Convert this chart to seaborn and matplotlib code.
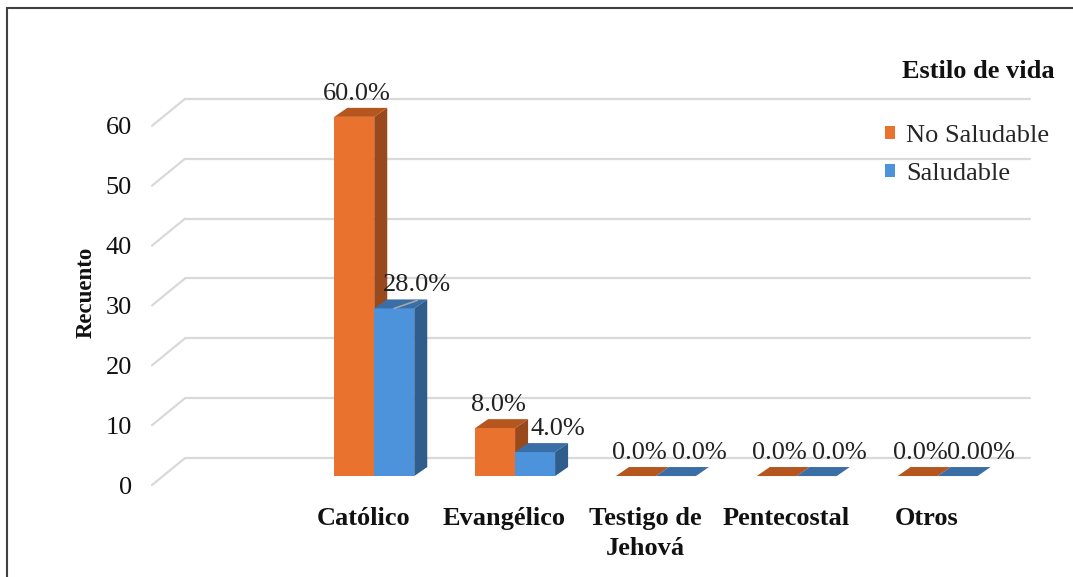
import matplotlib
matplotlib.use("Agg")
import numpy as np
import pandas as pd
import matplotlib.pyplot as plt
from matplotlib.patches import Polygon, Rectangle
import seaborn as sns

# Datos del grafico
categorias = ["", "Católico", "Evangélico", "Testigo de\nJehová", "Pentecostal", "Otros"]
grupos = ["No Saludable", "Saludable"]
no_saludable = [60, 8, 0, 0, 0]
saludable = [28, 4, 0, 0, 0]
etiquetas_no = ["60.0%", "8.0%", "0.0%", "0.0%", "0.0%"]
etiquetas_si = ["28.0%", "4.0%", "0.0%", "0.0%", "0.00%"]
yticks = [0, 10, 20, 30, 40, 50, 60]

df = pd.DataFrame({
    "Religión": categorias[1:] * 2,
    "Recuento": no_saludable + saludable,
    "Estilo de vida": [grupos[0]] * 5 + [grupos[1]] * 5,
})

# colores (frente, tapa, lado)
col_front = {"No Saludable": "#E9722F", "Saludable": "#4D93DB"}
col_top = {"No Saludable": "#B5561F", "Saludable": "#3A6EA7"}
col_side = {"No Saludable": "#9A491C", "Saludable": "#2F5E8D"}

sns.set_theme(style="white")
plt.rcParams["font.family"] = ["Liberation Serif", "DejaVu Serif"]

W, H = 1073, 577
fig = plt.figure(figsize=(W / 100, H / 100), dpi=100)
# ejes: x de -0.5 a 5.5 -> px 163..1008, y de -3 a 70 -> px 494..57
ax = fig.add_axes([163 / W, (H - 494) / H, 845 / W, 437 / H])
ax.set_facecolor("none")

px_x = 845 / 6.0       # px por categoria
px_y = 437 / 73.0      # px por unidad
BDX, BDY = 13 / px_x, 9 / px_y      # profundidad de barra
WDX, WDY = 22 / px_x, 18 / px_y     # pared del fondo
FDX, FDY = -11 / px_x, -9 / px_y    # borde frontal del piso

sns.barplot(data=df, x="Religión", y="Recuento", hue="Estilo de vida",
            order=categorias, hue_order=grupos, palette=col_front,
            width=80 / px_x, gap=0, saturation=1, errorbar=None,
            linewidth=0, ax=ax)

ax.set_xlim(-0.5, 5.5)
ax.set_ylim(-3, 70)

# lineas de cuadricula en 3D
for v in yticks:
    ax.plot([-0.5 + FDX, -0.5 + WDX], [v + FDY, v + WDY], color="#d9d9d9",
            lw=1.6, zorder=1, clip_on=False)
    ax.plot([-0.5 + WDX, 5.5 + WDX], [v + WDY, v + WDY], color="#d9d9d9",
            lw=1.6, zorder=1, clip_on=False)

# caras 3D y etiquetas
etiquetas = [etiquetas_no, etiquetas_si]
for gi, (cont, g) in enumerate(zip(ax.containers, grupos)):
    z = 2.5 if gi == 0 else 3.5
    for bi, p in enumerate(cont.patches):
        p.set_zorder(3)
        x0, w, h = p.get_x(), p.get_width(), p.get_height()
        top = [(x0, h), (x0 + w, h), (x0 + w + BDX, h + BDY), (x0 + BDX, h + BDY)]
        ax.add_patch(Polygon(top, closed=True, facecolor=col_top[g], lw=0, zorder=z))
        if h > 0:
            side = [(x0 + w, 0), (x0 + w + BDX, BDY), (x0 + w + BDX, h + BDY), (x0 + w, h)]
            ax.add_patch(Polygon(side, closed=True, facecolor=col_side[g], lw=0, zorder=z))
        dx = 3 / px_x if gi == 0 else 23 / px_x
        ax.text(x0 + w / 2 + dx, h + 17 / px_y, etiquetas[gi][bi], ha="center",
                va="baseline", fontsize=19, color="#222222", zorder=5)
        if gi == 1 and h == max(saludable):
            ax.plot([x0 + w / 2, x0 + w / 2 + 23 / px_x], [h, h + 8 / px_y],
                    color="#a6a6a6", lw=1.2, zorder=4)

# ejes
ax.set_xticks([i + FDX for i in range(len(categorias))], labels=categorias)
ax.set_yticks([v + FDY for v in yticks], labels=[str(v) for v in yticks])
ax.tick_params(axis="x", length=0, pad=9.2, labelsize=19, labelcolor="#111111")
ax.tick_params(axis="y", length=0, pad=22.3, labelsize=19, labelcolor="#111111")
for lbl in ax.get_xticklabels():
    lbl.set_fontweight("bold")
    lbl.set_linespacing(1.4)
ax.set_xlabel("")
ax.set_ylabel("Recuento", fontsize=16.5, fontweight="bold", color="#111111")
ax.yaxis.set_label_coords((97 - 163) / 845, (494 - 292) / 437)
sns.despine(ax=ax, left=True, bottom=True)
ax.grid(False)

# leyenda
handles, labels = ax.get_legend_handles_labels()
ax.legend(handles, labels, loc="center left", bbox_to_anchor=(885 / W, 1 - 155 / H),
          bbox_transform=fig.transFigure, frameon=False, fontsize=19,
          handlelength=0.36, handleheight=0.36, handletextpad=0.45,
          labelspacing=0.6, borderpad=0, borderaxespad=0)
fig.text(978 / W, 1 - 78 / H, "Estilo de vida", ha="center", va="baseline",
         fontsize=19, fontweight="bold", color="#111111")

# marco
fig.add_artist(Rectangle((7 / W, -0.1), 1.2, (H - 8) / H + 0.1,
                         transform=fig.transFigure, fill=False,
                         edgecolor="#404040", lw=1.5))

fig.savefig("out.png", dpi=100)
